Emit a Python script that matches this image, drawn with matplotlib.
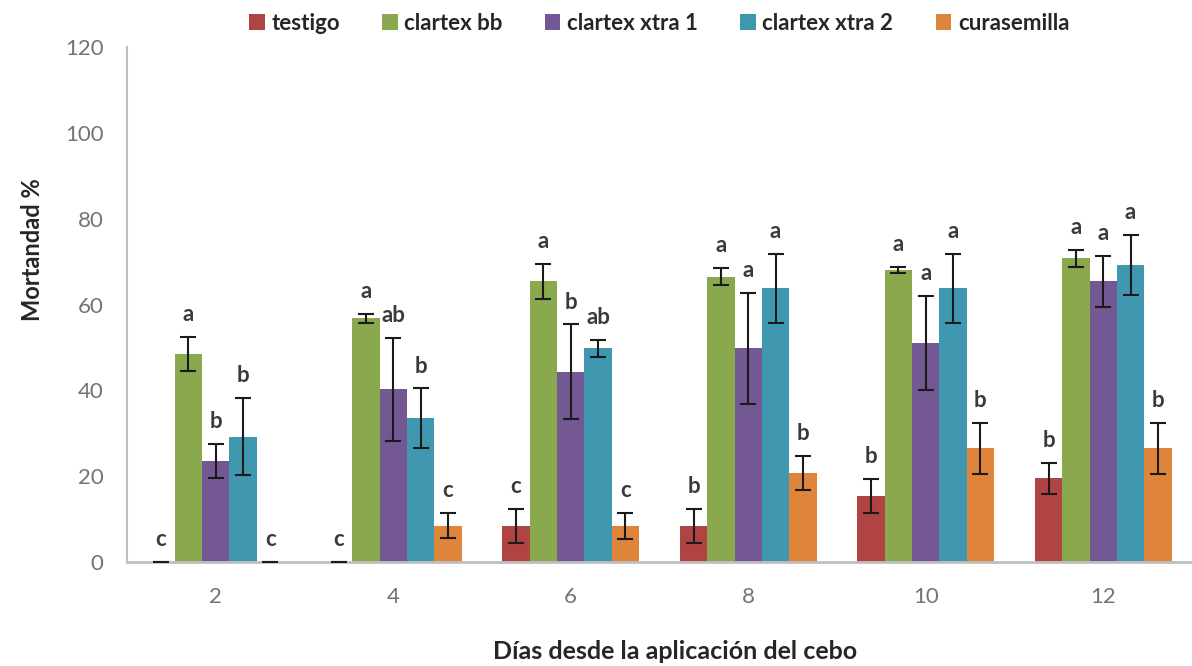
import numpy as np
import matplotlib.pyplot as plt

plt.rcParams['font.family'] = ['Lato', 'DejaVu Sans']

# Data
dias = ['2', '4', '6', '8', '10', '12']
tratamientos = ['testigo', 'clartex bb', 'clartex xtra 1', 'clartex xtra 2', 'curasemilla']
colores = ['#AF4442', '#8AA84E', '#735893', '#3F98B0', '#DE843B']

testigo = [0, 0, 8.4, 8.4, 15.4, 19.5]
clartex_bb = [48.5, 56.8, 65.4, 66.5, 68.1, 70.8]
clartex_xtra1 = [23.5, 40.3, 44.4, 49.8, 51.1, 65.4]
clartex_xtra2 = [29.2, 33.5, 49.8, 63.8, 63.8, 69.3]
curasemilla = [0, 8.5, 8.4, 20.8, 26.5, 26.5]

err_testigo = [0, 0, 4, 4, 4, 3.7]
err_bb = [4, 1, 4, 2, 0.7, 2]
err_xtra1 = [4, 12, 11, 13, 11, 6]
err_xtra2 = [9, 7, 2, 8, 8, 7]
err_cura = [0, 3, 3, 4, 6, 6]

letras_testigo = ['c', 'c', 'c', 'b', 'b', 'b']
letras_bb = ['a', 'a', 'a', 'a', 'a', 'a']
letras_xtra1 = ['b', 'ab', 'b', 'a', 'a', 'a']
letras_xtra2 = ['b', 'b', 'ab', 'a', 'a', 'a']
letras_cura = ['c', 'c', 'c', 'b', 'b', 'b']

series = [testigo, clartex_bb, clartex_xtra1, clartex_xtra2, curasemilla]
errores = [err_testigo, err_bb, err_xtra1, err_xtra2, err_cura]
letras = [letras_testigo, letras_bb, letras_xtra1, letras_xtra2, letras_cura]

fig = plt.figure(figsize=(11.92, 6.66), dpi=100)
ax = fig.add_axes([0.1065, 0.156, 0.8935, 0.7734])

x = np.arange(len(dias))
ancho = 0.154

for i, (vals, errs, lets) in enumerate(zip(series, errores, letras)):
    pos = x + (i - 2) * ancho
    ax.bar(pos, vals, ancho, color=colores[i], label=tratamientos[i], zorder=2)
    ax.errorbar(pos, vals, yerr=errs, fmt='none', ecolor='#1a1a1a',
                elinewidth=1.5, capsize=6, capthick=1.5, zorder=3)
    for px, v, e, t in zip(pos, vals, errs, lets):
        ax.annotate(t, (px, v + e), xytext=(0, 16), textcoords='offset points',
                    ha='center', va='center', fontsize=16, fontweight='bold',
                    color='#3a3a3a')

ax.set_xlim(-0.5, 5.5)
ax.set_ylim(0, 120)
ax.set_yticks(range(0, 121, 20))
ax.set_xticks(x)
ax.set_xticklabels(dias)
ax.tick_params(axis='both', length=0, labelsize=16, labelcolor='#737373')
ax.tick_params(axis='x', pad=18)
ax.tick_params(axis='y', pad=17)

for s in ['top', 'right']:
    ax.spines[s].set_visible(False)
ax.spines['left'].set_color('#BFBFBF')
ax.spines['left'].set_linewidth(1.5)
ax.spines['bottom'].set_color('#BFBFBF')
ax.spines['bottom'].set_linewidth(2)

ax.set_ylabel('Mortandad %', fontsize=17, fontweight='bold', color='#262626')
ax.yaxis.set_label_coords(-0.078, 0.606)
ax.set_xlabel('Días desde la aplicación del cebo', fontsize=18, fontweight='bold',
              color='#262626')
ax.xaxis.set_label_coords(0.515, -0.152)

fig.legend(loc='center', bbox_to_anchor=(0.553, 0.965), ncol=5, frameon=False,
           handlelength=0.7, handleheight=0.7, handletextpad=0.3,
           columnspacing=1.9, prop={'size': 16, 'weight': 'bold'},
           labelcolor='#262626')

fig.savefig('out.png', dpi=100)
